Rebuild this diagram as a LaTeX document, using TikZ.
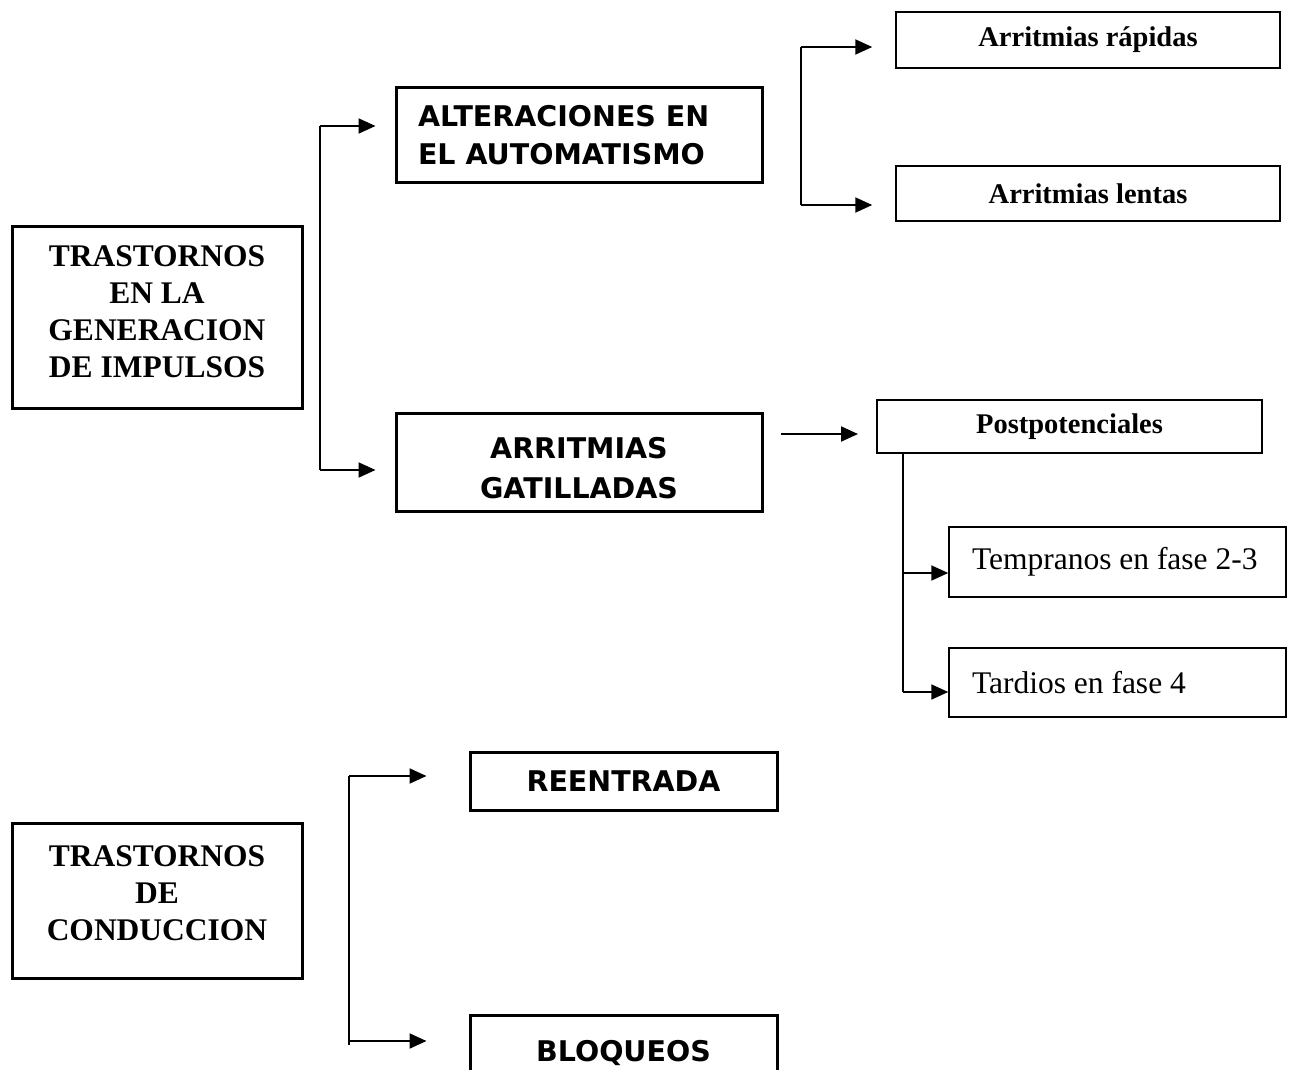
\documentclass[tikz,border=0pt]{standalone}
\usepackage{fontspec}
\setmainfont{Liberation Serif}
\newfontfamily\comic{DejaVu Sans}
\usetikzlibrary{arrows.meta}
\tikzset{
  thickbox/.style={draw, line width=3pt, inner sep=0pt, align=center},
  thinbox/.style={draw, line width=1.5pt, inner sep=0pt, align=center},
  conn/.style={line width=2pt},
  arr/.style={line width=2pt, -{Triangle[length=17pt,width=15pt]}},
  bigbold/.style={font=\fontsize{31.5}{37}\selectfont\bfseries},
  comicf/.style={font=\fontsize{28.5}{38}\selectfont\comic\bfseries},
  midbold/.style={font=\fontsize{28.5}{34}\selectfont\bfseries},
  plainf/.style={font=\fontsize{31.5}{37}\selectfont}
}
\begin{document}
\begin{tikzpicture}[x=1pt,y=-1pt]
\useasboundingbox (0,0) rectangle (1291,1070);
\clip (0,0) rectangle (1291,1070);
% boxes
\node[thickbox, bigbold, minimum width=290pt, minimum height=182pt] (gen) at (157,317) {TRASTORNOS\\EN LA\\GENERACION\\DE IMPULSOS\rule[-10pt]{0pt}{0pt}};
\node[thickbox, comicf, minimum width=366pt, minimum height=95pt] (alt) at (579,135.5) {\makebox[322pt][l]{ALTERACIONES EN}\\\makebox[322pt][l]{EL AUTOMATISMO}};
\node[thickbox, comicf, minimum width=366pt, minimum height=98pt] (gat) at (579,462) {\rule{0pt}{33pt}ARRITMIAS\\[2pt]GATILLADAS};
\node[thinbox, midbold, minimum width=384pt, minimum height=56pt] (rap) at (1088,40) {Arritmias rápidas};
\node[thinbox, midbold, minimum width=384pt, minimum height=55pt] (len) at (1088,193.5) {Arritmias lentas};
\node[thinbox, midbold, minimum width=385pt, minimum height=53pt] (post) at (1069.5,426.5) {Postpotenciales};
\node[thinbox, plainf, minimum width=337pt, minimum height=70pt] (temp) at (1117.5,562) {\makebox[291pt][l]{Tempranos en fase 2-3}};
\node[thinbox, plainf, minimum width=337pt, minimum height=69pt] (tard) at (1117.5,682.5) {\makebox[291pt][l]{Tardios en fase 4}};
\node[thickbox, bigbold, minimum width=290pt, minimum height=155pt] (cond) at (157,900.5) {TRASTORNOS\\DE\\CONDUCCION\rule[-14pt]{0pt}{0pt}};
\node[thickbox, comicf, minimum width=307pt, minimum height=58pt] (reen) at (623.5,781) {REENTRADA};
\node[thickbox, comicf, minimum width=307pt, minimum height=76pt] (bloq) at (623.5,1053) {BLOQUEOS};
% bracket 1
\coordinate (g1t) at (320,126);
\coordinate (g1b) at (320,470);
\draw[conn] (g1t) -- (g1b);
\draw[arr, shorten >=19pt] (g1t) -- (g1t -| alt.west);
\draw[arr, shorten >=19pt] (g1b) -- (g1b -| gat.west);
% bracket 2
\coordinate (a1t) at (801,47);
\coordinate (a1b) at (801,205);
\draw[conn] (a1t) -- (a1b);
\draw[arr, shorten >=23pt] (a1t) -- (a1t -| rap.west);
\draw[arr, shorten >=23pt] (a1b) -- (a1b -| len.west);
% free arrow
\coordinate (pa) at (781,434);
\coordinate (pb) at (858,434);
\draw[arr] (pa) -- (pb);
% bracket 3
\coordinate (p1t) at (903,453);
\coordinate (p1m) at (903,573);
\coordinate (p1b) at (903,692);
\draw[conn] (p1t) -- (p1b);
\draw[arr] (p1m) -- (p1m -| temp.west);
\draw[arr] (p1b) -- (p1b -| tard.west);
% bracket 4
\coordinate (c1t) at (349,776);
\coordinate (c1b) at (349,1045);
\coordinate (c1a) at (349,1041);
\draw[conn] (c1t) -- (c1b);
\draw[arr, shorten >=42pt] (c1t) -- (c1t -| reen.west);
\draw[arr, shorten >=42pt] (c1a) -- (c1a -| bloq.west);
\end{tikzpicture}
\end{document}
